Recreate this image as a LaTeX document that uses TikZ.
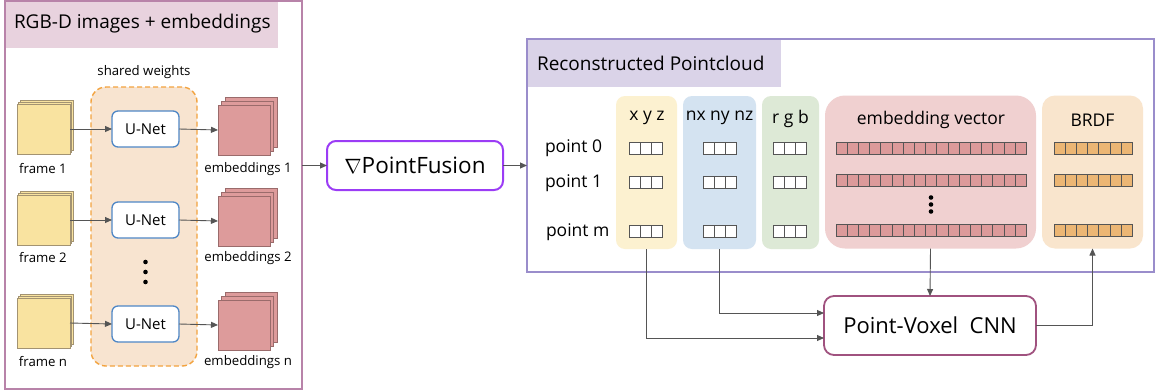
\documentclass[tikz,border=0pt]{standalone}
\usepackage{fontspec}
\setmainfont{Open Sans}
\usetikzlibrary{arrows.meta,shadows}

\definecolor{inDraw}{HTML}{B883A9}
\definecolor{inHead}{HTML}{E8D2DE}
\definecolor{pcDraw}{HTML}{9A8DCB}
\definecolor{pcHead}{HTML}{DAD3E8}
\definecolor{shFill}{HTML}{F8E4D0}
\definecolor{shDraw}{HTML}{F3A33F}
\definecolor{unDraw}{HTML}{4F87C6}
\definecolor{frFill}{HTML}{F9E3A0}
\definecolor{frDraw}{HTML}{A39372}
\definecolor{emFill}{HTML}{DD9B9B}
\definecolor{emDraw}{HTML}{9A6B6B}
\definecolor{pfDraw}{HTML}{9B3CF5}
\definecolor{pvDraw}{HTML}{A0527F}
\definecolor{cXYZ}{HTML}{FCF1D0}
\definecolor{cNrm}{HTML}{D4E3F1}
\definecolor{cRGB}{HTML}{DDE9D6}
\definecolor{cEmb}{HTML}{F0D0D0}
\definecolor{cBRDF}{HTML}{F9E5CD}
\definecolor{cellEmb}{HTML}{DC9A9A}
\definecolor{cellBRDF}{HTML}{ECB674}
\definecolor{arrowGray}{HTML}{555555}

\tikzset{
  every node/.style={inner sep=0pt, outer sep=0pt},
  arr/.style={draw=arrowGray, line width=0.9pt, -{Triangle[length=7pt,width=6pt]}},
  outerbox/.style={draw, line width=1.6pt, fill=white},
  unet/.style={draw=unDraw, line width=1.3pt, rounded corners=6pt, fill=white,
    minimum width=67pt, minimum height=36pt, font=\fontsize{15}{17}\selectfont},
  framestack/.style={draw=frDraw, fill=frFill, line width=0.8pt,
    minimum width=53pt, minimum height=50pt,
    double copy shadow={shadow xshift=1.8pt, shadow yshift=2pt}},
  embstack/.style={draw=emDraw, fill=emFill, line width=0.8pt,
    minimum width=52pt, minimum height=50pt,
    double copy shadow={shadow xshift=3.8pt, shadow yshift=3.8pt}},
  smalllabel/.style={font=\fontsize{13.2}{15}\selectfont},
  column/.style={rounded corners=9pt, minimum height=153pt},
  colhead/.style={font=\fontsize{17.5}{19}\selectfont},
  rowlabel/.style={anchor=west, font=\fontsize{17.5}{19}\selectfont},
}

% a row of n cells starting at (x,y), each 11.2 wide
\newcommand{\cellrow}[5]{%
  \foreach \k in {1,...,#3}{%
    \draw[draw=#5, fill=#4, line width=0.7pt]
      ({#1+(\k-1)*11.2}, {#2-6}) rectangle ({#1+\k*11.2}, {#2+6});
  }%
}

\begin{document}
\begin{tikzpicture}[x=1pt, y=-1pt]
\useasboundingbox (0,0) rectangle (1158,391);

% ---------- input block ----------
\node[outerbox, draw=inDraw, minimum width=297pt, minimum height=388pt] (inbox) at (153.5,195) {};
\fill[inHead] (6,2) rectangle (278,48);
\node[anchor=west, font=\fontsize{19}{22}\selectfont] (inTitle) at (14,24) {RGB-D images + embeddings};

\node[draw=shDraw, fill=shFill, line width=1.4pt, dash pattern=on 5pt off 3pt,
      rounded corners=15pt, minimum width=106pt, minimum height=279pt] (shared) at (144,226.5) {};
\node[smalllabel] (sharedLbl) at (144,72) {shared weights};

\node[unet] (u1) at (145.5,129) {U-Net};
\node[unet] (u2) at (145.5,220) {U-Net};
\node[unet] (un) at (145.5,324) {U-Net};

\fill (145.5,262) circle (2.3);
\fill (145.5,272) circle (2.3);
\fill (145.5,282) circle (2.3);

\node[framestack] (f1) at (43.5,129) {};
\node[framestack] (f2) at (43.5,220) {};
\node[framestack] (fn) at (43.5,323) {};
\node[smalllabel] (f1l) at (43,169) {frame 1};
\node[smalllabel] (f2l) at (43,258) {frame 2};
\node[smalllabel] (fnl) at (43,362) {frame n};

\node[embstack] (e1) at (244,130) {};
\node[embstack] (e2) at (244,221) {};
\node[embstack] (en) at (244,325) {};
\node[smalllabel] (e1l) at (248,169) {embeddings 1};
\node[smalllabel] (e2l) at (248,258) {embeddings 2};
\node[smalllabel] (enl) at (248,362) {embeddings n};

\draw[arr] (f1.east) -- (u1.west);
\draw[arr] (f2.east) -- (u2.west);
\draw[arr] (fn.east) -- (un.west);
\draw[arr] (u1.east) -- (e1.west);
\draw[arr] (u2.east) -- (e2.west);
\draw[arr] (un.east) -- (en.west);

% ---------- fusion ----------
\node[draw=pfDraw, line width=2pt, rounded corners=9pt, fill=white,
      minimum width=176pt, minimum height=49pt, font=\fontsize{22.5}{24}\selectfont] (pf) at (415,165.5) {$\nabla$PointFusion};

% ---------- point cloud ----------
\node[outerbox, draw=pcDraw, minimum width=627pt, minimum height=233pt] (cloud) at (840.5,155.5) {};
\fill[pcHead] (528,39.5) rectangle (781,87);
\node[anchor=west, font=\fontsize{19}{22}\selectfont] (pcTitle) at (537,63) {Reconstructed Pointcloud};

\draw[arr] (pf.west -| inbox.east) -- (pf.west);
\draw[arr] (pf.east) -- (pf.east -| cloud.west);

\node[column, fill=cXYZ, minimum width=61pt] (xyz) at (646.5,172.5) {};
\node[column, fill=cNrm, minimum width=73pt] (nrm) at (719.5,172.5) {};
\node[column, fill=cRGB, minimum width=57pt] (rgb) at (790.5,172.5) {};
\node[column, fill=cEmb, minimum width=211pt, rounded corners=20pt] (emb) at (930.5,172) {};
\node[column, fill=cBRDF, minimum width=101pt, rounded corners=13pt] (brdf) at (1092.5,172) {};

\node[colhead] (hxyz) at (647,118) {x y z};
\node[colhead] (hnrm) at (719.5,118) {nx ny nz};
\node[colhead] (hrgb) at (790.5,119) {r g b};
\node[colhead] (hemb) at (931,120) {embedding vector};
\node[colhead] (hbrdf) at (1092.5,120) {BRDF};

\node[rowlabel] (p0) at (545,148.5) {point 0};
\node[rowlabel] (p1) at (545,183) {point 1};
\node[rowlabel] (pm) at (546,232) {point m};

\foreach \yy in {148.5,182,231.5}{
  \cellrow{629}{\yy}{3}{white}{arrowGray}
  \cellrow{703}{\yy}{3}{white}{arrowGray}
  \cellrow{773}{\yy}{3}{white}{arrowGray}
}
\foreach \yy in {148,180,230.5}{
  \cellrow{836}{\yy}{17}{cellEmb}{arrowGray}
  \cellrow{1054}{\yy}{7}{cellBRDF}{arrowGray}
}
\fill (931,197.5) circle (2.3);
\fill (931,204.5) circle (2.3);
\fill (931,211.5) circle (2.3);

% ---------- point-voxel network ----------
\node[draw=pvDraw, line width=1.8pt, rounded corners=10pt, fill=white,
      minimum width=212pt, minimum height=59pt, font=\fontsize{22}{24}\selectfont] (pv) at (930,325.5) {Point-Voxel\ \ CNN};

\draw[arr] (xyz.south) |- ([yshift=-12.5pt]pv.west);
\draw[arr] (nrm.south) |- ([yshift=12.5pt]pv.west);
\draw[arr] (emb.south) -- (pv.north);
\draw[arr] (pv.east) -| (brdf.south);

\end{tikzpicture}
\end{document}
